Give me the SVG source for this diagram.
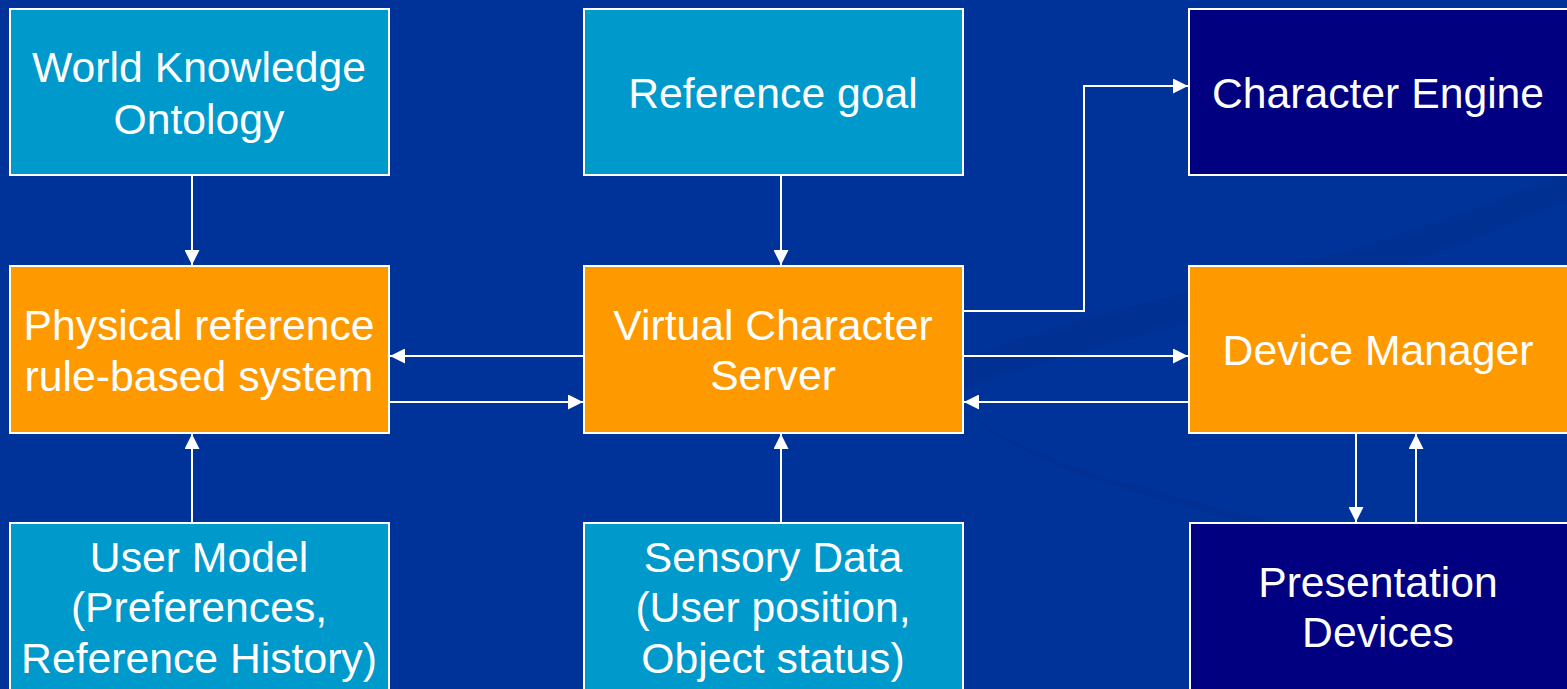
<svg xmlns="http://www.w3.org/2000/svg" width="1567" height="689" viewBox="0 0 1567 689">
  <style>
    .box { stroke: #ffffff; stroke-width: 2; }
    .cyan { fill: #0099cc; }
    .orange { fill: #ff9900; }
    .navy { fill: #000080; }
    .label { font-family: "Liberation Sans", Arial, sans-serif; font-size: 42.7px; fill: #ffffff; text-anchor: middle; }
    .conn { stroke: #ffffff; stroke-width: 2; fill: none; }
  </style>
  <defs>
    <marker id="arrow" viewBox="0 0 15 15" refX="15" refY="7.5" markerWidth="15" markerHeight="15" markerUnits="userSpaceOnUse" orient="auto">
      <path d="M0,0 L15,7.5 L0,15 Z" fill="#ffffff"/>
    </marker>
  </defs>

  <!-- background with soft swoosh -->
  <rect x="0" y="0" width="1567" height="689" fill="#003399"/>
  <g id="swoosh" fill="none">
    <path d="M960,360 C1100,300 1350,270 1567,170 L1567,200 C1380,290 1120,330 960,390 Z" fill="#00308f" opacity="0.7"/>
    <path d="M960,400 C1000,470 1200,510 1400,560 C1300,520 1050,480 980,420 Z" fill="#002e8c" opacity="0.6"/>
  </g>

  <!-- connectors -->
  <g id="connectors">
    <line class="conn" x1="192" y1="175" x2="192" y2="265" marker-end="url(#arrow)"/>
    <line class="conn" x1="781" y1="175" x2="781" y2="265" marker-end="url(#arrow)"/>
    <line class="conn" x1="192" y1="523" x2="192" y2="434" marker-end="url(#arrow)"/>
    <line class="conn" x1="781" y1="523" x2="781" y2="434" marker-end="url(#arrow)"/>
    <line class="conn" x1="584" y1="356" x2="390" y2="356" marker-end="url(#arrow)"/>
    <line class="conn" x1="389" y1="402" x2="583" y2="402" marker-end="url(#arrow)"/>
    <polyline class="conn" points="963,311 1084,311 1084,86 1188,86" marker-end="url(#arrow)"/>
    <line class="conn" x1="963" y1="356" x2="1188" y2="356" marker-end="url(#arrow)"/>
    <line class="conn" x1="1189" y1="402" x2="964" y2="402" marker-end="url(#arrow)"/>
    <line class="conn" x1="1356" y1="433" x2="1356" y2="522" marker-end="url(#arrow)"/>
    <line class="conn" x1="1416" y1="523" x2="1416" y2="434" marker-end="url(#arrow)"/>
  </g>

  <g id="world-knowledge">
    <rect class="box cyan" x="10" y="9" width="379" height="166"/>
    <text class="label" x="199" y="82">World Knowledge</text>
    <text class="label" x="199" y="134">Ontology</text>
  </g>

  <g id="reference-goal">
    <rect class="box cyan" x="584" y="9" width="379" height="166"/>
    <text class="label" x="773" y="108">Reference goal</text>
  </g>

  <g id="character-engine">
    <rect class="box navy" x="1189" y="9" width="380" height="166"/>
    <text class="label" x="1378" y="108">Character Engine</text>
  </g>

  <g id="physical-reference">
    <rect class="box orange" x="10" y="266" width="379" height="167"/>
    <text class="label" x="199" y="340">Physical reference</text>
    <text class="label" x="199" y="391">rule-based system</text>
  </g>

  <g id="virtual-character-server">
    <rect class="box orange" x="584" y="266" width="379" height="167"/>
    <text class="label" x="773" y="340">Virtual Character</text>
    <text class="label" x="773" y="390">Server</text>
  </g>

  <g id="device-manager">
    <rect class="box orange" x="1189" y="266" width="380" height="167"/>
    <text class="label" x="1378" y="365">Device Manager</text>
  </g>

  <g id="user-model">
    <rect class="box cyan" x="10" y="523" width="379" height="170"/>
    <text class="label" x="199" y="572">User Model</text>
    <text class="label" x="199" y="622">(Preferences,</text>
    <text class="label" x="199" y="673">Reference History)</text>
  </g>

  <g id="sensory-data">
    <rect class="box cyan" x="584" y="523" width="379" height="170"/>
    <text class="label" x="773" y="572">Sensory Data</text>
    <text class="label" x="773" y="622">(User position,</text>
    <text class="label" x="773" y="673">Object status)</text>
  </g>

  <g id="presentation-devices">
    <rect class="box navy" x="1190" y="523" width="379" height="170"/>
    <text class="label" x="1378" y="597">Presentation</text>
    <text class="label" x="1378" y="647">Devices</text>
  </g>
</svg>
